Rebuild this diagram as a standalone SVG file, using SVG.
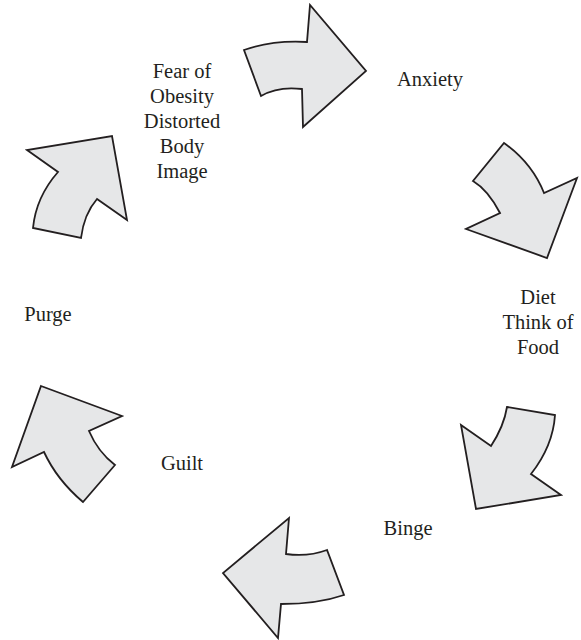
<svg xmlns="http://www.w3.org/2000/svg" width="581" height="640" viewBox="0 0 581 640">
<style>
.arrow{fill:#e6e7e8;stroke:#231f20;stroke-width:1.8;stroke-linejoin:miter}
text{font-family:'Liberation Serif','DejaVu Serif',serif;font-size:20.5px;fill:#231f20;text-anchor:middle}
</style>
<rect width="581" height="640" fill="#ffffff"/>
<g id="connectors">
<path class="arrow" d="M244,50 Q272,40 307,42 L310,5 L366,71 L303,127 L302,89 Q278,86 261,96 Z"/>
<path class="arrow" d="M504,143 Q532,163 544,193 L577,178 L547,258 L466,229 L500,213 Q488,190 473,181 Z"/>
<path class="arrow" d="M507,407 L555,415 Q553,446 531,474 L561,495 L476,509 L461,425 L491,446 Q504,426 507,407 Z"/>
<path class="arrow" d="M289,518 L286,554 Q308,557 327,550 L344,595 Q318,604 281,604 L278,638 L223,573 Z"/>
<path class="arrow" d="M41,386 L122,416 L89,431 Q98,452 115,465 L83,502 Q57,480 44,452 L12,467 Z"/>
<path class="arrow" d="M33,228 Q36,197 58,172 L27,150 L112,136 L127,220 L97,199 Q84,214 81,238 Z"/>
</g>
<g id="fear">
<text x="182" y="78">Fear of</text>
<text x="182" y="103">Obesity</text>
<text x="182" y="128">Distorted</text>
<text x="182" y="153">Body</text>
<text x="182" y="178">Image</text>
</g>
<g id="anxiety"><text x="430" y="86">Anxiety</text></g>
<g id="diet">
<text x="538" y="304">Diet</text>
<text x="538" y="329">Think of</text>
<text x="538" y="354">Food</text>
</g>
<g id="binge"><text x="408" y="535">Binge</text></g>
<g id="guilt"><text x="182" y="470">Guilt</text></g>
<g id="purge"><text x="48" y="321">Purge</text></g>
</svg>
